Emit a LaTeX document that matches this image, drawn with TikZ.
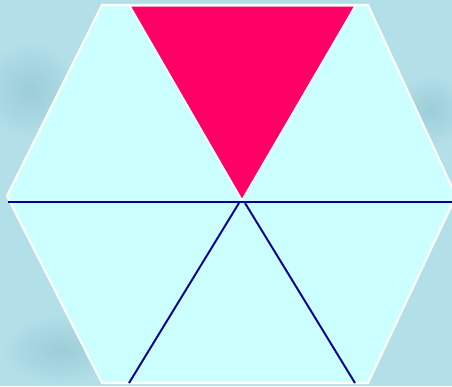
\documentclass[tikz,border=0pt]{standalone}
\usepackage{tikz}

\definecolor{bgblue}{HTML}{B3DFE8}
\definecolor{bgdark}{HTML}{9CCDD8}
\definecolor{hexfill}{HTML}{CCFFFF}
\definecolor{hexred}{HTML}{FF0066}
\definecolor{lineblue}{HTML}{000099}

\begin{document}
\begin{tikzpicture}[x=0.02cm,y=-0.02cm]
\useasboundingbox (0,0) rectangle (452,386);
\clip (0,0) rectangle (452,386);
\fill[bgblue] (0,0) rectangle (452,386);
\shade[inner color=bgdark,outer color=bgblue] (30,90) ellipse (50 and 50);
\shade[inner color=bgdark,outer color=bgblue] (60,350) ellipse (60 and 35);
\shade[inner color=bgdark,outer color=bgblue] (430,110) ellipse (40 and 35);
% hexagon corners
\coordinate (tl) at (102,5);
\coordinate (tr) at (368,5);
\coordinate (r) at (456,196);
\coordinate (br) at (368,383);
\coordinate (bl) at (102,383);
\coordinate (l) at (7,196);
\coordinate (o) at (242,200);
\draw[white,line width=1.2pt,fill=hexfill] (tl) -- (tr) -- (r) -- (br) -- (bl) -- (l) -- cycle;
% red piece
\coordinate (rl) at (130,6);
\coordinate (rr) at (355,6);
\draw[white,line width=0.8pt,fill=hexred] (rl) -- (rr) -- (o) -- cycle;
% cuts
\coordinate (hl) at (8,202);
\coordinate (hr) at (456,202);
\coordinate (dl) at (129,383);
\coordinate (dr) at (355,383);
\draw[lineblue,line width=1.1pt] (hl) -- (hr);
\draw[lineblue,line width=1.1pt] (o) ++(-3,3) -- (dl);
\draw[lineblue,line width=1.1pt] (o) ++(3,3) -- (dr);
\end{tikzpicture}
\end{document}
